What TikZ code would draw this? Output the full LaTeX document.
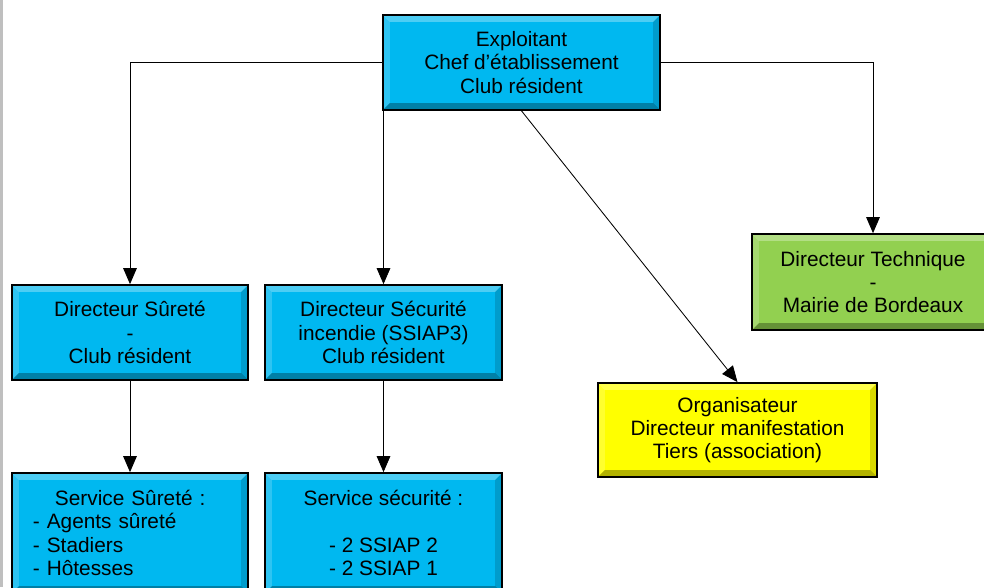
\documentclass[tikz,border=0pt]{standalone}
\usepackage{fontspec}
\setmainfont{Liberation Sans}
\usetikzlibrary{positioning, arrows.meta}

\definecolor{boxblue}{RGB}{0,184,240}
\definecolor{boxgreen}{RGB}{146,208,80}
\definecolor{boxyellow}{RGB}{255,255,0}

\begin{document}
\begin{tikzpicture}[
		x=0.025cm, y=-0.025cm,
		box/.style={draw=black, line width=1.2pt, inner sep=2pt, align=center,
			font=\fontsize{14.8}{16.6}\selectfont,
			path picture={
				\fill[white, opacity=.30] (path picture bounding box.north west) -- (path picture bounding box.north east)
					-- ([shift={(-0.17cm,-0.17cm)}]path picture bounding box.north east) -- ([shift={(0.17cm,-0.17cm)}]path picture bounding box.north west) -- cycle;
				\fill[white, opacity=.18] (path picture bounding box.north west) -- (path picture bounding box.south west)
					-- ([shift={(0.17cm,0.17cm)}]path picture bounding box.south west) -- ([shift={(0.17cm,-0.17cm)}]path picture bounding box.north west) -- cycle;
				\fill[black, opacity=.15] (path picture bounding box.north east) -- (path picture bounding box.south east)
					-- ([shift={(-0.17cm,0.17cm)}]path picture bounding box.south east) -- ([shift={(-0.17cm,-0.17cm)}]path picture bounding box.north east) -- cycle;
				\fill[black, opacity=.30] (path picture bounding box.south west) -- (path picture bounding box.south east)
					-- ([shift={(-0.17cm,0.17cm)}]path picture bounding box.south east) -- ([shift={(0.17cm,0.17cm)}]path picture bounding box.south west) -- cycle;
			}},
		bluebox/.style={box, fill=boxblue},
		link/.style={-{Triangle[length=0.4cm,width=0.34cm]}, line width=0.6pt}
		]
		
		% Page frame
		\useasboundingbox (0,0) rectangle (984,587);
		\fill[black!25] (0,0) rectangle (3,587);
		
		% Top box
		\node[bluebox, minimum width=6.925cm, minimum height=2.375cm] (expl) at (521.5,62.5)
			{Exploitant\\Chef d’établissement\\Club résident};
		
		% Directors
		\node[bluebox, minimum width=5.9cm, minimum height=2.375cm] (dsur) at (130,332.5)
			{Directeur Sûreté\\-\\Club résident};
		\node[bluebox, minimum width=5.925cm, minimum height=2.375cm] (dsec) at (383.5,332.5)
			{Directeur Sécurité\\incendie (SSIAP3)\\Club résident};
		\node[box, fill=boxgreen, minimum width=6.05cm, minimum height=2.4cm] (dtech) at (873,282)
			{Directeur Technique\\-\\Mairie de Bordeaux};
		\node[box, fill=boxyellow, minimum width=6.975cm, minimum height=2.35cm] (orga) at (737.5,430)
			{Organisateur\\Directeur manifestation\\Tiers (association)};
		
		% Services
		\node[bluebox, minimum width=5.9cm, minimum height=3cm, text width=4.85cm, align=left] (ssur) at (130,533)
			{\hspace*{0.55cm}Service Sûreté :\\- Agents sûreté\\- Stadiers\\- Hôtesses};
		\node[bluebox, minimum width=5.925cm, minimum height=3cm] (ssec) at (383.5,533)
			{Service sécurité :\\\mbox{}\\- 2 SSIAP 2\\- 2 SSIAP 1};
		
		% Links
		\draw[link] (expl.west) -| (dsur.north);
		\draw[link] (dsec.north |- expl.south) -- (dsec.north);
		\draw[link] (expl.east) -| (dtech.north);
		\draw[link] (expl.south) -- (orga.north);
		\draw[link] (dsur.south) -- (ssur.north);
		\draw[link] (dsec.south) -- (ssec.north);
		
	\end{tikzpicture}
\end{document}
